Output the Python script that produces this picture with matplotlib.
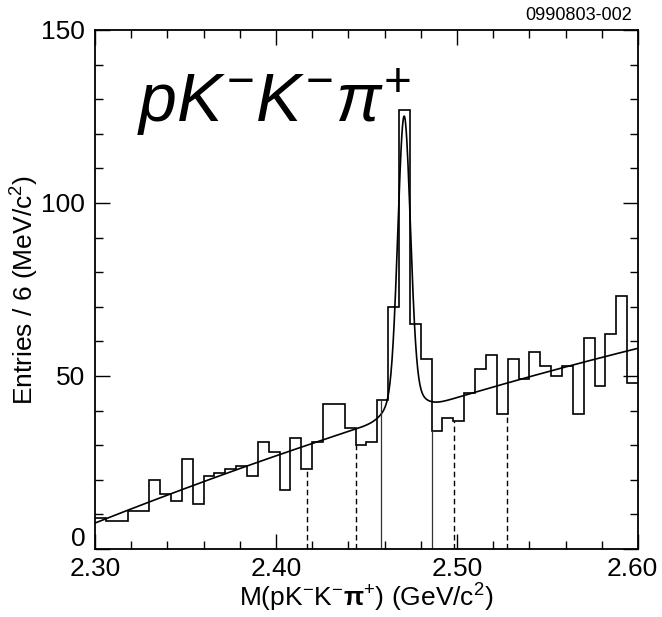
import numpy as np
import matplotlib
matplotlib.use("Agg")
import matplotlib.pyplot as plt
from matplotlib.ticker import MultipleLocator, FuncFormatter

plt.rcParams['font.family'] = ['Liberation Sans', 'DejaVu Sans']
plt.rcParams['mathtext.fontset'] = 'custom'
plt.rcParams['mathtext.rm'] = 'Liberation Sans'
plt.rcParams['mathtext.it'] = 'Liberation Sans:italic'
plt.rcParams['mathtext.bf'] = 'Liberation Sans:bold'

## histogram: 6 MeV bins from 2.30 to 2.60 GeV
m_lo, m_hi, bin_w = 2.30, 2.60, 0.006
counts = [9, 8, 8, 11, 11, 20, 16, 14, 26, 13,
          21, 22, 23, 24, 21, 31, 28, 17, 32, 23,
          31, 42, 42, 35, 30, 31, 43, 70, 127, 65,
          55, 34, 38, 37, 45, 52, 56, 39, 55, 49,
          57, 53, 50, 53, 39, 61, 47, 62, 73, 48]

## fit: quadratic background (in m - 2.30) + two gaussians
bg_pars = [7.5, 207.2, -129.5]
sig_mean = 2.4708
sig_amps = [78.0, 8.0]
sig_widths = [0.0034, 0.0075]

## signal region (solid) and sidebands (dashed)
signal_cuts = [2.458, 2.4862]
sideband_cuts = [2.4173, 2.4444, 2.4982, 2.5278]

edges = m_lo + bin_w * np.arange(len(counts) + 1)
counts = np.array(counts)

def fit_func(m):
    u = m - m_lo
    y = bg_pars[0] + bg_pars[1] * u + bg_pars[2] * u**2
    for a, s in zip(sig_amps, sig_widths):
        y = y + a * np.exp(-0.5 * ((m - sig_mean) / s)**2)
    return y

def hist_at(m):
    i = int((m - m_lo) / bin_w)
    return counts[i]

fig = plt.figure(figsize=(6.62, 6.17), dpi=100)
ax = fig.add_axes([0.1435, 0.1102, 0.8202, 0.8412])

ax.stairs(counts, edges, baseline=None, color='black', lw=1.2)
mm = np.linspace(m_lo, m_hi, 1500)
ax.plot(mm, fit_func(mm), color='black', lw=1.2)

for m in signal_cuts:
    ax.vlines(m, 0, hist_at(m), color='#333333', lw=0.9)
for m in sideband_cuts:
    ax.vlines(m, 0, hist_at(m), color='black', lw=1.0,
              linestyles=(0, (4, 2.5)))

ax.set_xlim(m_lo, m_hi)
ax.set_ylim(0, 150)
ax.xaxis.set_major_locator(MultipleLocator(0.1))
ax.xaxis.set_minor_locator(MultipleLocator(0.02))
ax.yaxis.set_major_locator(MultipleLocator(50))
ax.yaxis.set_minor_locator(MultipleLocator(10))
# corner labels "0" and "2.60" are placed by hand below
ax.xaxis.set_major_formatter(FuncFormatter(
    lambda v, p: '' if abs(v - m_hi) < 1e-6 else '%.2f' % v))
ax.yaxis.set_major_formatter(FuncFormatter(
    lambda v, p: '' if abs(v) < 1e-6 else '%d' % v))
ax.tick_params(which='both', direction='in', top=True, right=True,
               labelsize=19, width=1.0)
ax.tick_params(which='major', length=11)
ax.tick_params(which='minor', length=6)
ax.tick_params(axis='x', pad=6)
ax.tick_params(axis='y', pad=7)
for sp in ax.spines.values():
    sp.set_linewidth(1.3)

ax.annotate('0', xy=(0, 0), xycoords='axes fraction', xytext=(-7, 7),
            textcoords='offset points', ha='right', va='center', fontsize=19)
ax.annotate('%.2f' % m_hi, xy=(1, 0), xycoords='axes fraction',
            xytext=(-4, -6), textcoords='offset points', ha='center',
            va='top', fontsize=19)

ax.set_xlabel(r'M(pK$^{-}$K$^{-}$$\mathbf{\pi}$$^{+}$) (GeV/c$^{2}$)',
              fontsize=19, labelpad=0)
ax.set_ylabel(r'Entries / 6 (MeV/c$^{2}$)', fontsize=19, labelpad=0)

ax.text(0.077, 0.823, r'$pK^{-}K^{-}\pi^{+}$', transform=ax.transAxes,
        fontsize=49, va='baseline', ha='left')
fig.text(0.955, 0.975, '0990803-002', fontsize=13, ha='right', va='center')

fig.savefig('out.png', dpi=100)
